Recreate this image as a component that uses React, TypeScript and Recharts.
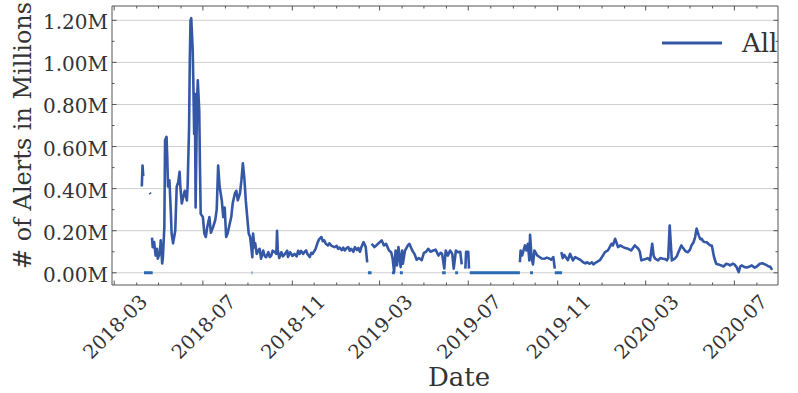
import React from 'react';
import { LineChart, Line, XAxis, YAxis, CartesianGrid, Legend, ReferenceLine } from 'recharts';

// Alert counts (millions) per day, split into the stretches where data exists
const aprilStart: [string, number][] = [
  ['2018-04-08', 0.41], ['2018-04-09', 0.51], ['2018-04-10', 0.46],
];

const aprilBlip: [string, number][] = [
  ['2018-04-19', 0.38], ['2018-04-20', 0.375],
];

const firstRun: [string, number][] = [
  ['2018-04-22', 0.167], ['2018-04-23', 0.122], ['2018-04-25', 0.146], ['2018-04-27', 0.082],
  ['2018-04-29', 0.114], ['2018-04-30', 0.067], ['2018-05-03', 0.098], ['2018-05-04', 0.154],
  ['2018-05-06', 0.044], ['2018-05-07', 0.074], ['2018-05-09', 0.217], ['2018-05-10', 0.63],
  ['2018-05-12', 0.646], ['2018-05-13', 0.55], ['2018-05-14', 0.41], ['2018-05-16', 0.44],
  ['2018-05-18', 0.28], ['2018-05-19', 0.187], ['2018-05-21', 0.14], ['2018-05-24', 0.2],
  ['2018-05-26', 0.41], ['2018-05-28', 0.43], ['2018-05-30', 0.48], ['2018-05-31', 0.41],
  ['2018-06-02', 0.33], ['2018-06-04', 0.36], ['2018-06-06', 0.39], ['2018-06-09', 0.344],
  ['2018-06-10', 0.41], ['2018-06-12', 0.69], ['2018-06-13', 1.01], ['2018-06-14', 1.2],
  ['2018-06-15', 1.21], ['2018-06-17', 1.06], ['2018-06-18', 0.88], ['2018-06-19', 0.66],
  ['2018-06-20', 0.85], ['2018-06-21', 0.31], ['2018-06-23', 0.82], ['2018-06-24', 0.915],
  ['2018-06-26', 0.77], ['2018-06-27', 0.5], ['2018-06-28', 0.28], ['2018-07-01', 0.265],
  ['2018-07-03', 0.187], ['2018-07-05', 0.17], ['2018-07-07', 0.217], ['2018-07-10', 0.265],
  ['2018-07-12', 0.19], ['2018-07-15', 0.217], ['2018-07-18', 0.25], ['2018-07-20', 0.3],
  ['2018-07-22', 0.51], ['2018-07-24', 0.41], ['2018-07-27', 0.344], ['2018-07-29', 0.265],
  ['2018-07-31', 0.31], ['2018-08-02', 0.17], ['2018-08-04', 0.187], ['2018-08-07', 0.234],
  ['2018-08-09', 0.265], ['2018-08-11', 0.33], ['2018-08-14', 0.377], ['2018-08-16', 0.39],
  ['2018-08-18', 0.344], ['2018-08-21', 0.377], ['2018-08-23', 0.44], ['2018-08-25', 0.52],
  ['2018-08-27', 0.45], ['2018-08-29', 0.344], ['2018-08-31', 0.265], ['2018-09-02', 0.187],
  ['2018-09-04', 0.17], ['2018-09-07', 0.074], ['2018-09-08', 0.187], ['2018-09-10', 0.12],
  ['2018-09-11', 0.14], ['2018-09-13', 0.09], ['2018-09-15', 0.105], ['2018-09-17', 0.114],
  ['2018-09-19', 0.067], ['2018-09-22', 0.106], ['2018-09-24', 0.08], ['2018-09-26', 0.074],
  ['2018-09-29', 0.098], ['2018-10-01', 0.075], ['2018-10-03', 0.082], ['2018-10-05', 0.105],
  ['2018-10-08', 0.098], ['2018-10-10', 0.09], ['2018-10-11', 0.2], ['2018-10-12', 0.11],
  ['2018-10-14', 0.07], ['2018-10-17', 0.098], ['2018-10-19', 0.078], ['2018-10-22', 0.09],
  ['2018-10-25', 0.105], ['2018-10-26', 0.075], ['2018-10-29', 0.098], ['2018-11-01', 0.08],
  ['2018-11-04', 0.09], ['2018-11-07', 0.078], ['2018-11-09', 0.105], ['2018-11-11', 0.09],
  ['2018-11-13', 0.104], ['2018-11-16', 0.09], ['2018-11-18', 0.1], ['2018-11-20', 0.106],
  ['2018-11-22', 0.088], ['2018-11-25', 0.075], ['2018-11-27', 0.095], ['2018-11-29', 0.09],
  ['2018-12-03', 0.114], ['2018-12-06', 0.146], ['2018-12-08', 0.16], ['2018-12-11', 0.17],
  ['2018-12-13', 0.15], ['2018-12-15', 0.154], ['2018-12-17', 0.138], ['2018-12-20', 0.13],
  ['2018-12-22', 0.14], ['2018-12-25', 0.128], ['2018-12-29', 0.122], ['2019-01-01', 0.128],
  ['2019-01-03', 0.114], ['2019-01-05', 0.12], ['2019-01-08', 0.108], ['2019-01-10', 0.12],
  ['2019-01-12', 0.106], ['2019-01-15', 0.118], ['2019-01-17', 0.122], ['2019-01-19', 0.105],
  ['2019-01-21', 0.114], ['2019-01-24', 0.1], ['2019-01-26', 0.122], ['2019-01-29', 0.108],
  ['2019-01-31', 0.118], ['2019-02-02', 0.1], ['2019-02-04', 0.122], ['2019-02-07', 0.146],
  ['2019-02-10', 0.122], ['2019-02-12', 0.05],
];

const springRun2019: [string, number][] = [
  ['2019-02-18', 0.138], ['2019-02-22', 0.122], ['2019-02-27', 0.138], ['2019-03-04', 0.154],
  ['2019-03-07', 0.13], ['2019-03-10', 0.138], ['2019-03-14', 0.106], ['2019-03-17', 0.098],
  ['2019-03-19', 0.067], ['2019-03-21', 0.003], ['2019-03-23', 0.106], ['2019-03-25', 0.035],
  ['2019-03-27', 0.122], ['2019-03-30', 0.027], ['2019-04-01', 0.106], ['2019-04-02', 0.043],
  ['2019-04-05', 0.106], ['2019-04-09', 0.13], ['2019-04-11', 0.138], ['2019-04-15', 0.106],
  ['2019-04-18', 0.09], ['2019-04-21', 0.062], ['2019-04-24', 0.07], ['2019-04-28', 0.06],
  ['2019-05-01', 0.095], ['2019-05-04', 0.1], ['2019-05-07', 0.114], ['2019-05-10', 0.1],
  ['2019-05-14', 0.106], ['2019-05-17', 0.11], ['2019-05-21', 0.082], ['2019-05-24', 0.095],
  ['2019-05-26', 0.09], ['2019-05-29', 0.02], ['2019-05-31', 0.106], ['2019-06-03', 0.082],
  ['2019-06-06', 0.106], ['2019-06-09', 0.09], ['2019-06-11', 0.02], ['2019-06-14', 0.106],
  ['2019-06-17', 0.098], ['2019-06-20', 0.1], ['2019-06-22', 0.04],
];

const julyBlip2019: [string, number][] = [
  ['2019-06-27', 0.02], ['2019-06-28', 0.1], ['2019-07-01', 0.1], ['2019-07-02', 0.02],
];

const autumnRun2019: [string, number][] = [
  ['2019-09-10', 0.05], ['2019-09-11', 0.106], ['2019-09-13', 0.082], ['2019-09-17', 0.13],
  ['2019-09-19', 0.106], ['2019-09-21', 0.138], ['2019-09-23', 0.059], ['2019-09-24', 0.18],
  ['2019-09-26', 0.075], ['2019-09-28', 0.04], ['2019-09-30', 0.106], ['2019-10-04', 0.082],
  ['2019-10-07', 0.075], ['2019-10-10', 0.068], ['2019-10-14', 0.067], ['2019-10-17', 0.072],
  ['2019-10-21', 0.067], ['2019-10-23', 0.062], ['2019-10-26', 0.075], ['2019-10-28', 0.02],
];

const lastRun: [string, number][] = [
  ['2019-11-06', 0.098], ['2019-11-08', 0.07], ['2019-11-10', 0.085], ['2019-11-13', 0.07],
  ['2019-11-15', 0.06], ['2019-11-18', 0.09], ['2019-11-22', 0.059], ['2019-11-25', 0.075],
  ['2019-11-29', 0.067], ['2019-12-02', 0.062], ['2019-12-06', 0.05], ['2019-12-09', 0.045],
  ['2019-12-11', 0.05], ['2019-12-15', 0.043], ['2019-12-18', 0.05], ['2019-12-20', 0.04],
  ['2019-12-24', 0.05], ['2019-12-29', 0.06], ['2019-12-31', 0.07], ['2020-01-05', 0.098],
  ['2020-01-09', 0.106], ['2020-01-14', 0.138], ['2020-01-16', 0.13], ['2020-01-19', 0.162],
  ['2020-01-23', 0.122], ['2020-01-26', 0.13], ['2020-01-30', 0.122], ['2020-02-02', 0.118],
  ['2020-02-06', 0.114], ['2020-02-10', 0.106], ['2020-02-13', 0.12], ['2020-02-15', 0.13],
  ['2020-02-20', 0.114], ['2020-02-22', 0.1], ['2020-02-24', 0.059], ['2020-03-02', 0.067],
  ['2020-03-04', 0.07], ['2020-03-07', 0.059], ['2020-03-10', 0.138], ['2020-03-12', 0.08],
  ['2020-03-14', 0.067], ['2020-03-18', 0.059], ['2020-03-21', 0.07], ['2020-03-25', 0.067],
  ['2020-03-28', 0.065], ['2020-03-30', 0.059], ['2020-04-01', 0.07], ['2020-04-03', 0.225],
  ['2020-04-06', 0.059], ['2020-04-10', 0.067], ['2020-04-13', 0.08], ['2020-04-15', 0.098],
  ['2020-04-19', 0.13], ['2020-04-21', 0.12], ['2020-04-24', 0.106], ['2020-04-26', 0.1],
  ['2020-04-28', 0.098], ['2020-05-01', 0.11], ['2020-05-03', 0.13], ['2020-05-06', 0.146],
  ['2020-05-08', 0.17], ['2020-05-10', 0.21], ['2020-05-13', 0.178], ['2020-05-15', 0.16],
  ['2020-05-17', 0.162], ['2020-05-19', 0.15], ['2020-05-21', 0.146], ['2020-05-24', 0.145],
  ['2020-05-26', 0.138], ['2020-05-29', 0.13], ['2020-05-31', 0.13], ['2020-06-03', 0.075],
  ['2020-06-06', 0.043], ['2020-06-09', 0.04], ['2020-06-13', 0.035], ['2020-06-16', 0.03],
  ['2020-06-20', 0.043], ['2020-06-23', 0.04], ['2020-06-25', 0.035], ['2020-06-29', 0.043],
  ['2020-07-01', 0.04], ['2020-07-04', 0.027], ['2020-07-07', 0.003], ['2020-07-09', 0.03],
  ['2020-07-11', 0.035], ['2020-07-15', 0.027], ['2020-07-18', 0.025], ['2020-07-22', 0.03],
  ['2020-07-25', 0.035], ['2020-07-29', 0.024], ['2020-08-01', 0.03], ['2020-08-05', 0.043],
  ['2020-08-09', 0.045], ['2020-08-12', 0.04], ['2020-08-15', 0.035], ['2020-08-17', 0.03],
  ['2020-08-19', 0.03], ['2020-08-22', 0.014],
];

const alertRuns = [aprilStart, aprilBlip, firstRun, springRun2019, julyBlip2019, autumnRun2019, lastRun];

// Runs of days reported as zero alerts
const zeroRunStarts = [
  '2018-04-11', '2018-09-06', '2019-02-13', '2019-03-18', '2019-03-29',
  '2019-05-26', '2019-06-13', '2019-07-03', '2019-09-24', '2019-10-28',
];
const zeroRunEnds = [
  '2018-04-23', '2018-09-07', '2019-02-18', '2019-03-22', '2019-04-02',
  '2019-05-31', '2019-06-17', '2019-09-10', '2019-09-28', '2019-11-07',
];

const yTicks = [0, 0.2, 0.4, 0.6, 0.8, 1.0, 1.2];
const yMinorTicks = [0.1, 0.3, 0.5, 0.7, 0.9, 1.1];
const majorMonths = ['2018-03', '2018-07', '2018-11', '2019-03', '2019-07', '2019-11', '2020-03', '2020-07'];
const monthTicks = [
  '2018-03', '2018-04', '2018-05', '2018-06', '2018-07', '2018-08', '2018-09', '2018-10', '2018-11', '2018-12',
  '2019-01', '2019-02', '2019-03', '2019-04', '2019-05', '2019-06', '2019-07', '2019-08', '2019-09', '2019-10',
  '2019-11', '2019-12', '2020-01', '2020-02', '2020-03', '2020-04', '2020-05', '2020-06', '2020-07', '2020-08',
];

const X_START = '2018-02-26';
const X_END = '2020-08-30';
const Y_DOMAIN: [number, number] = [-0.058, 1.268];

const CHART_W = 798;
const CHART_H = 393;
const MARGIN = { top: 6, right: 20, bottom: 0, left: 0 };
const Y_AXIS_W = 112;
const X_AXIS_H = 108;
const PLOT_W = CHART_W - MARGIN.left - MARGIN.right - Y_AXIS_W;
const PLOT_H = CHART_H - MARGIN.top - MARGIN.bottom - X_AXIS_H;

const FONT = '"DejaVu Serif", serif';
const TEXT = '#333333';
const FRAME = '#555555';
const LINE_COLOR = '#3558a6';
const ZERO_COLOR = '#2a6bb1';

const DAY = 86400000;
const ms = (d: string) => Date.parse(d.length === 7 ? `${d}-01` : d);

// one series, with a null point between runs so the line breaks at the gaps
const alertSeries = alertRuns.flatMap((run, i) => {
  const pts: { t: number; v: number | null }[] = run.map(([d, v]) => ({ t: ms(d), v }));
  if (i < alertRuns.length - 1) pts.push({ t: ms(run[run.length - 1][0]) + DAY / 2, v: null });
  return pts;
});

const zeroSeries = zeroRunStarts.flatMap((s, i) => {
  const pts: { t: number; v: number | null }[] = [
    { t: ms(s), v: 0 },
    { t: ms(zeroRunEnds[i]), v: 0 },
  ];
  if (i < zeroRunStarts.length - 1) pts.push({ t: ms(zeroRunEnds[i]) + DAY / 2, v: null });
  return pts;
});

const renderXTick = (props: any) => {
  const { x, y, payload } = props;
  const d = new Date(payload.value);
  const label = `${d.getUTCFullYear()}-${String(d.getUTCMonth() + 1).padStart(2, '0')}`;
  const major = majorMonths.includes(label);
  const len = major ? 4.5 : 2.5;
  return (
    <g>
      <line x1={x} y1={y} x2={x} y2={y - len} stroke={FRAME} strokeWidth={1} />
      <line x1={x} y1={y - PLOT_H} x2={x} y2={y - PLOT_H + len} stroke={FRAME} strokeWidth={1} />
      {major && (
        <text
          transform={`translate(${x + 1},${y + 42}) rotate(-45)`}
          textAnchor="middle"
          dominantBaseline="central"
          fontFamily={FONT}
          fontSize={19.5}
          fill={TEXT}
        >
          {label}
        </text>
      )}
    </g>
  );
};

const renderYTick = (props: any) => {
  const { x, y, payload } = props;
  const v: number = payload.value;
  const major = yTicks.some((t) => Math.abs(t - v) < 1e-6);
  const len = major ? 4.5 : 2.5;
  return (
    <g>
      <line x1={x} y1={y} x2={x + len} y2={y} stroke={FRAME} strokeWidth={1} />
      <line x1={x + PLOT_W} y1={y} x2={x + PLOT_W - len} y2={y} stroke={FRAME} strokeWidth={1} />
      {major && (
        <text x={x - 4} y={y + 2} textAnchor="end" dominantBaseline="central" fontFamily={FONT} fontSize={20} fill={TEXT}>
          {`${v.toFixed(2)}M`}
        </text>
      )}
    </g>
  );
};

const renderYTitle = (props: any) => {
  const vb = props.viewBox;
  return (
    <text
      transform={`translate(${vb.x + 23},${vb.y + vb.height / 2 - 10}) rotate(-90)`}
      textAnchor="middle"
      dominantBaseline="central"
      fontFamily={FONT}
      fontSize={24}
      fill={TEXT}
    >
      # of Alerts in Millions
    </text>
  );
};

const renderXTitle = (props: any) => {
  const vb = props.viewBox;
  return (
    <text x={vb.x + vb.width / 2 + 14} y={vb.y + vb.height - 7} textAnchor="middle" fontFamily={FONT} fontSize={26} fill={TEXT}>
      Date
    </text>
  );
};

const renderLegend = (props: any) => {
  const items = (props.payload || []).filter((p: any) => p.type !== 'none');
  return (
    <div>
      {items.map((p: any) => (
        <div key={p.value} style={{ display: 'flex', alignItems: 'center' }}>
          <svg width={60} height={6}>
            <line x1={0} y1={3} x2={60} y2={3} stroke={p.color} strokeWidth={3} />
          </svg>
          <span style={{ marginLeft: 20, fontFamily: FONT, fontSize: 26, color: TEXT, lineHeight: 1 }}>{p.value}</span>
        </div>
      ))}
    </div>
  );
};

export default function App() {
  return (
    <div style={{ position: 'absolute', left: 0, top: 0, background: '#fff' }}>
      <LineChart width={CHART_W} height={CHART_H} margin={MARGIN}>
        <CartesianGrid vertical={false} horizontalValues={yTicks} stroke="#cfcfcf" strokeWidth={1} />
        <XAxis
          dataKey="t"
          type="number"
          domain={[ms(X_START), ms(X_END)]}
          allowDataOverflow
          ticks={monthTicks.map(ms)}
          interval={0}
          height={X_AXIS_H}
          tickSize={0}
          tickMargin={0}
          tickLine={false}
          tick={renderXTick}
          axisLine={{ stroke: FRAME, strokeWidth: 1 }}
          label={renderXTitle}
        />
        <YAxis
          type="number"
          domain={Y_DOMAIN}
          allowDataOverflow
          ticks={[...yTicks, ...yMinorTicks].sort((a, b) => a - b)}
          interval={0}
          width={Y_AXIS_W}
          tickSize={0}
          tickMargin={0}
          tickLine={false}
          tick={renderYTick}
          axisLine={{ stroke: FRAME, strokeWidth: 1 }}
          label={renderYTitle}
        />
        <ReferenceLine y={Y_DOMAIN[1]} stroke={FRAME} strokeWidth={1} />
        <ReferenceLine x={ms(X_END)} stroke={FRAME} strokeWidth={1} />
        <Line
          data={zeroSeries}
          dataKey="v"
          name="zero"
          legendType="none"
          type="linear"
          stroke={ZERO_COLOR}
          strokeWidth={3}
          dot={false}
          connectNulls={false}
          isAnimationActive={false}
        />
        <Line
          data={alertSeries}
          dataKey="v"
          name="All"
          type="linear"
          stroke={LINE_COLOR}
          strokeWidth={2.6}
          strokeLinejoin="round"
          dot={false}
          connectNulls={false}
          isAnimationActive={false}
        />
        <Legend
          verticalAlign="middle"
          align="center"
          content={renderLegend}
          wrapperStyle={{ top: 30, left: 662, width: 130, height: 30 }}
        />
      </LineChart>
    </div>
  );
}
